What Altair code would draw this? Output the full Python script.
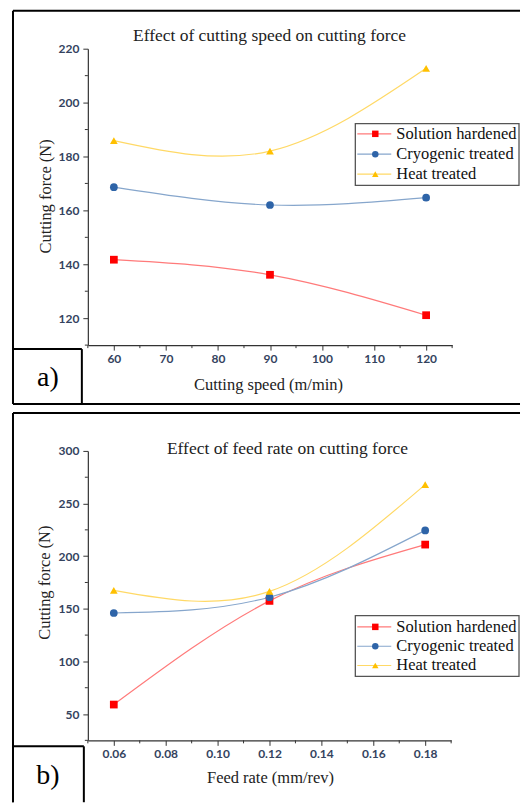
import altair as alt
import pandas as pd

series = ["Solution hardened", "Cryogenic treated", "Heat treated"]

speed = [60, 90, 120]
force_speed = {
    "Solution hardened": [141.7, 136.1, 121.1],
    "Cryogenic treated": [168.6, 162.0, 164.7],
    "Heat treated": [185.9, 182.0, 212.7],
}
speed_ticks = [60, 70, 80, 90, 100, 110, 120]
speed_minor = [55, 65, 75, 85, 95, 105, 115, 125]
force_a_ticks = [120, 140, 160, 180, 200, 220]
force_a_minor = [110, 130, 150, 170, 190, 210]

feed = [0.06, 0.12, 0.18]
force_feed = {
    "Solution hardened": [59.0, 157.5, 211.0],
    "Cryogenic treated": [146.0, 161.0, 224.5],
    "Heat treated": [167.5, 166.5, 268.0],
}
feed_ticks = [0.06, 0.08, 0.10, 0.12, 0.14, 0.16, 0.18]
feed_minor = [0.05, 0.07, 0.09, 0.11, 0.13, 0.15, 0.17, 0.19]
force_b_ticks = [50, 100, 150, 200, 250, 300]
force_b_minor = [25, 75, 125, 175, 225, 275]

marker_colors = ["#FF0000", "#2E64A8", "#FFC000"]
line_colors = ["#FF7A7A", "#86A6CC", "#FFD966"]
shapes = ["square", "circle", "triangle-up"]

SERIF = "Liberation Serif"
TICKFONT = "Lato"
LABEL_COLOR = "#34435e"
one = pd.DataFrame({"k": [0]})


def seg(x1, x2, y1, y2, color="black", w=2):
    enc = dict(x=alt.value(x1), y=alt.value(y1))
    if x2 != x1:
        enc["x2"] = alt.value(x2)
    if y2 != y1:
        enc["y2"] = alt.value(y2)
    return alt.Chart(one).mark_rule(color=color, strokeWidth=w).encode(**enc)


def panel(xs, ys_by_series, xdom, ydom, xticks, xminor, yticks, yminor, xfmt,
          W, H, title, title_xy, xtitle, xtitle_xy, ytitle, ytitle_xy,
          frame, labelbox, bottom_line, letter, letter_xy, legbox, legrows):
    x_enc = alt.X("x:Q", scale=alt.Scale(domain=xdom, nice=False, zero=False),
                  axis=alt.Axis(values=xticks, format=xfmt, title=None, grid=False,
                                tickSize=5, labelPadding=3, domainColor="#333",
                                tickColor="#333", domainWidth=1.2,
                                labelFont=TICKFONT, labelFontSize=12,
                                labelColor=LABEL_COLOR, labelFontWeight="bold"))
    y_enc = alt.Y("y:Q", scale=alt.Scale(domain=ydom, nice=False, zero=False),
                  axis=alt.Axis(values=yticks, format="d", title=None, grid=False,
                                tickSize=5, labelPadding=4, domainColor="#333",
                                tickColor="#333", domainWidth=1.2,
                                labelFont=TICKFONT, labelFontSize=12,
                                labelColor=LABEL_COLOR, labelFontWeight="bold"))
    layers = []
    for i, s in enumerate(series):
        df = pd.DataFrame({"x": xs, "y": ys_by_series[s]})
        layers.append(alt.Chart(df).mark_line(interpolate="natural", strokeWidth=1.2,
                                              color=line_colors[i])
                      .encode(x=x_enc, y=y_enc))
    for i, s in enumerate(series):
        df = pd.DataFrame({"x": xs, "y": ys_by_series[s]})
        layers.append(alt.Chart(df).mark_point(filled=True, opacity=1, size=60,
                                               color=marker_colors[i], shape=shapes[i])
                      .encode(x=x_enc, y=y_enc))
    # minor ticks
    layers.append(alt.Chart(pd.DataFrame({"x": xminor})).mark_rule(color="#333", strokeWidth=1)
                  .encode(x=x_enc, y=alt.value(H), y2=alt.value(H + 3)))
    layers.append(alt.Chart(pd.DataFrame({"y": yminor})).mark_rule(color="#333", strokeWidth=1)
                  .encode(y=y_enc, x=alt.value(-3), x2=alt.value(0)))
    # outer frame (left, top, optional bottom)
    fl, fr, ft, fb = frame
    layers.append(seg(fl, fr, ft, ft))
    layers.append(seg(fl, fl, ft, fb))
    if bottom_line:
        layers.append(seg(fl, fr, fb, fb))
    # letter box
    bl, br, bt, bb = labelbox
    layers.append(alt.Chart(one).mark_rect(fill="white")
                  .encode(x=alt.value(bl), x2=alt.value(br), y=alt.value(bt), y2=alt.value(bb)))
    layers.append(seg(bl, br, bt, bt))
    layers.append(seg(br, br, bt, bb))
    layers.append(seg(bl, bl, bt, bb))
    if bottom_line:
        layers.append(seg(bl, br, bb, bb))
    layers.append(alt.Chart(one).mark_text(text=letter, font=SERIF, fontSize=28,
                                           align="center", baseline="middle", color="black")
                  .encode(x=alt.value(letter_xy[0]), y=alt.value(letter_xy[1])))
    # titles
    layers.append(alt.Chart(one).mark_text(text=title, font=SERIF, fontSize=17.5,
                                           align="center", baseline="middle", color="#222")
                  .encode(x=alt.value(title_xy[0]), y=alt.value(title_xy[1])))
    layers.append(alt.Chart(one).mark_text(text=xtitle, font=SERIF, fontSize=16.5,
                                           align="center", baseline="middle", color="#222")
                  .encode(x=alt.value(xtitle_xy[0]), y=alt.value(xtitle_xy[1])))
    layers.append(alt.Chart(one).mark_text(text=ytitle, font=SERIF, fontSize=16.5, angle=270,
                                           align="center", baseline="middle", color="#222")
                  .encode(x=alt.value(ytitle_xy[0]), y=alt.value(ytitle_xy[1])))
    # legend
    layers.append(alt.Chart(one).mark_rect(fill="white", stroke="#555", strokeWidth=1.3)
                  .encode(x=alt.value(legbox[0]), x2=alt.value(legbox[1]),
                          y=alt.value(legbox[2]), y2=alt.value(legbox[3])))
    lx = legbox[0]
    for i, s in enumerate(series):
        ry = legrows[i]
        layers.append(alt.Chart(one).mark_rule(color=line_colors[i], strokeWidth=1.2)
                      .encode(x=alt.value(lx + 2), x2=alt.value(lx + 36), y=alt.value(ry)))
        layers.append(alt.Chart(one).mark_point(filled=True, opacity=1, size=42,
                                                color=marker_colors[i], shape=shapes[i])
                      .encode(x=alt.value(lx + 20), y=alt.value(ry)))
        layers.append(alt.Chart(one).mark_text(text=s, font=SERIF, fontSize=16.5,
                                               align="left", baseline="middle", color="#111")
                      .encode(x=alt.value(lx + 41), y=alt.value(ry)))
    return alt.layer(*layers).properties(width=W, height=H)


pa = panel(speed, force_speed, [55, 125], [110, 220], speed_ticks, speed_minor,
           force_a_ticks, force_a_minor, "d", 365, 297,
           "Effect of cutting speed on cutting force", (182, -13),
           "Cutting speed (m/min)", (181, 337),
           "Cutting force (N)", (-42, 148),
           (-75, 433, -38, 356), (-75, -6, 301, 356), True, "a)", (-40, 330),
           (268, 432, 75, 137), [85.3, 105.7, 125.7])

pb = panel(feed, force_feed, [0.05, 0.19], [25, 300], feed_ticks, feed_minor,
           force_b_ticks, force_b_minor, ".2f", 364, 290,
           "Effect of feed rate on cutting force", (200, -2),
           "Feed rate (mm/rev)", (183, 328),
           "Cutting force (N)", (-43, 132),
           (-75, 433, -38, 352), (-75, -4, 296, 352), False, "b)", (-40, 326),
           (268, 432, 165, 226), [176.3, 195.7, 215])

chart = alt.vconcat(pa, pb, spacing=5).properties(
    padding={"left": 3, "top": 0, "right": 0, "bottom": 0}
).configure_view(stroke="transparent")

chart.save("out.html", embed_options={"renderer": "svg", "actions": False})
